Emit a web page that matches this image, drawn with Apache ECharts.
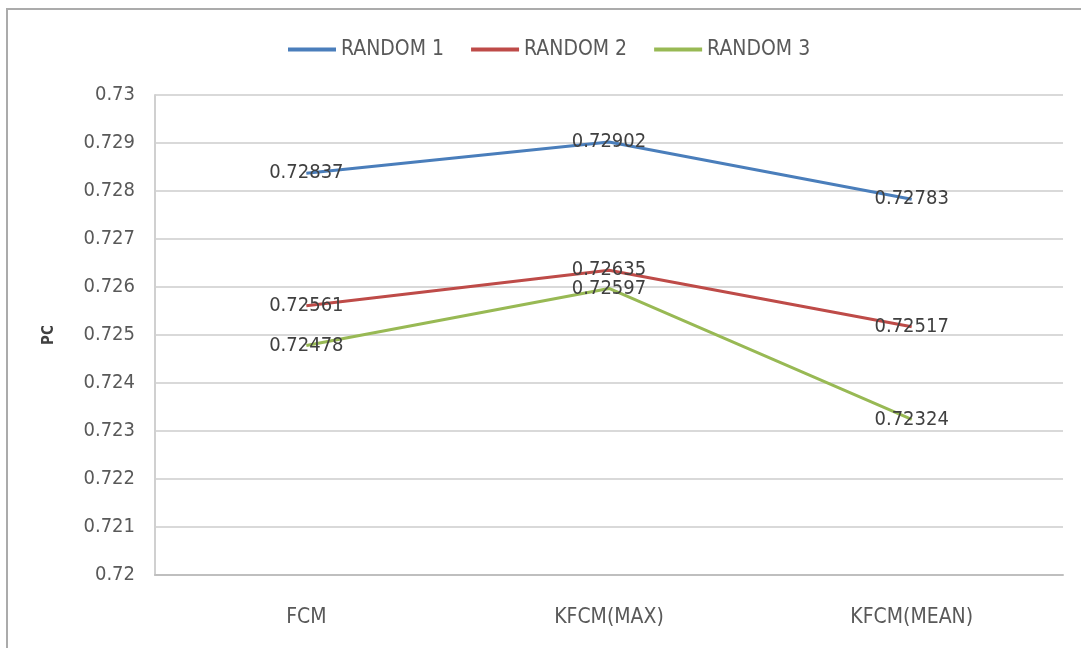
<!DOCTYPE html>
<html><head><meta charset="utf-8">
<script src="https://cdn.jsdelivr.net/npm/echarts@6/dist/echarts.min.js"></script>
<style>html,body{margin:0;padding:0;background:#fff}#c{width:1081px;height:648px}</style>
</head><body><div id="c"></div>
<script>
const categories = ['FCM', 'KFCM(MAX)', 'KFCM(MEAN)'];
const random1 = [0.72837, 0.72902, 0.72783];
const random2 = [0.72561, 0.72635, 0.72517];
const random3 = [0.72478, 0.72597, 0.72324];
const seriesNames = ['RANDOM 1', 'RANDOM 2', 'RANDOM 3'];
const yTicks = { min: 0.72, max: 0.73, interval: 0.001 };

const font = '"DejaVu Sans Condensed", "DejaVu Sans", sans-serif';
const colors = ['#4A7EBB', '#BE4B48', '#98B954'];
const chart = echarts.init(document.getElementById('c'));
function mk(name, data, i) {
  return {
    name, type: 'line', data, symbol: 'circle', symbolSize: 0, showSymbol: true,
    lineStyle: { width: 3, color: colors[i] }, itemStyle: { color: colors[i] },
    label: { show: true, position: 'inside', formatter: p => p.value.toFixed(5),
      color: '#404040', fontSize: 20, fontFamily: font },
    z: 3
  };
}
chart.setOption({
  animation: false,
  color: colors,
  graphic: [{ type: 'rect', shape: { x: 7, y: 9, width: 1100, height: 700 },
    style: { fill: 'none', stroke: '#ababab', lineWidth: 2 } }],
  legend: {
    top: 34, left: 283, itemWidth: 48, itemHeight: 4, itemGap: 27,
    icon: 'rect',
    textStyle: { color: '#595959', fontSize: 21, fontFamily: font }
  },
  grid: { left: 155, right: 18, top: 95, bottom: 73, containLabel: false },
  xAxis: {
    type: 'category', data: categories, boundaryGap: true,
    axisLine: { lineStyle: { color: '#bfbfbf', width: 2 } },
    axisTick: { show: false },
    axisLabel: { color: '#595959', fontSize: 21, fontFamily: font, margin: 32 }
  },
  yAxis: {
    type: 'value', min: yTicks.min, max: yTicks.max, interval: yTicks.interval,
    name: 'PC', nameLocation: 'middle', nameRotate: 90, nameGap: 98,
    nameTextStyle: { color: '#404040', fontSize: 15, fontWeight: 'bold', fontFamily: font },
    axisLine: { show: true, lineStyle: { color: '#d0d0d0', width: 2 } },
    axisTick: { show: false },
    splitLine: { lineStyle: { color: '#d9d9d9', width: 2 } },
    axisLabel: { color: '#595959', fontSize: 20, fontFamily: font, margin: 20,
      formatter: v => String(parseFloat(v.toFixed(3))) }
  },
  series: [mk(seriesNames[0], random1, 0), mk(seriesNames[1], random2, 1), mk(seriesNames[2], random3, 2)]
});
</script></body></html>
